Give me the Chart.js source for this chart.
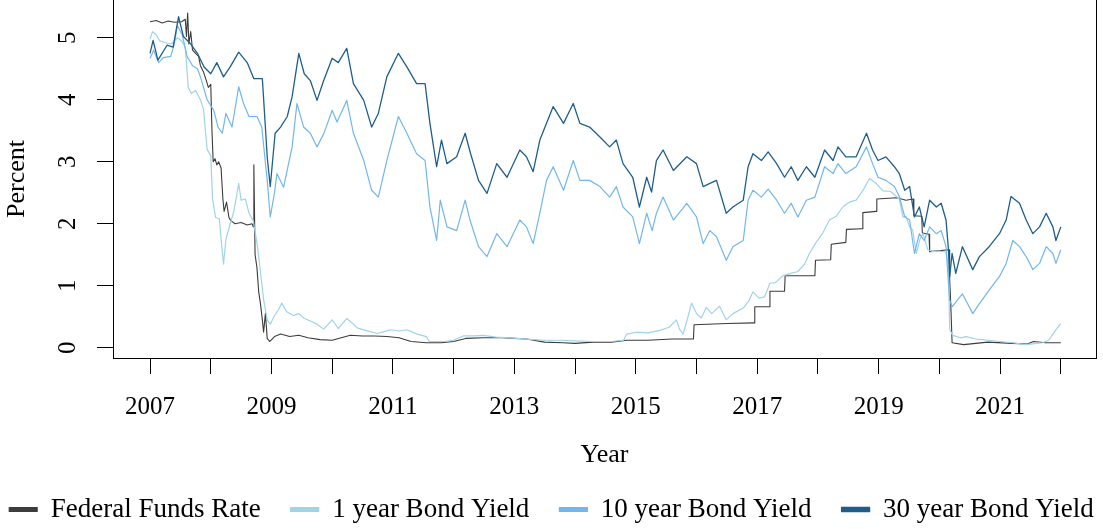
<!DOCTYPE html>
<html>
<head>
<meta charset="utf-8">
<script src="https://cdn.jsdelivr.net/npm/chart.js@4.4.0/dist/chart.umd.min.js"></script>
<style>
  html, body { margin: 0; padding: 0; background: #fff; }
</style>
</head>
<body>
<canvas id="rates" width="1103" height="529"></canvas>
<script>
// values (decimal years / percent)
var ffrDates = [2007.00, 2007.10, 2007.20, 2007.30, 2007.40, 2007.52, 2007.58, 2007.60, 2007.62, 2007.64, 2007.67, 2007.70, 2007.75, 2007.80, 2007.83, 2007.88, 2007.93, 2007.96, 2008.00, 2008.02, 2008.04, 2008.07, 2008.10, 2008.13, 2008.17, 2008.20, 2008.22, 2008.26, 2008.30, 2008.33, 2008.40, 2008.50, 2008.60, 2008.68, 2008.70, 2008.71, 2008.73, 2008.76, 2008.79, 2008.82, 2008.85, 2008.87, 2008.90, 2008.93, 2008.97, 2009.05, 2009.15, 2009.30, 2009.45, 2009.60, 2009.80, 2010.00, 2010.15, 2010.30, 2010.50, 2010.70, 2010.90, 2011.10, 2011.30, 2011.55, 2011.80, 2012.00, 2012.20, 2012.50, 2012.80, 2013.00, 2013.20, 2013.50, 2013.80, 2014.00, 2014.30, 2014.60, 2014.85, 2015.20, 2015.60, 2015.95, 2015.96, 2016.50, 2016.95, 2016.96, 2017.20, 2017.21, 2017.45, 2017.46, 2017.95, 2017.96, 2018.21, 2018.22, 2018.46, 2018.47, 2018.73, 2018.74, 2018.96, 2018.97, 2019.30, 2019.45, 2019.57, 2019.58, 2019.71, 2019.72, 2019.83, 2019.84, 2020.16, 2020.17, 2020.19, 2020.21, 2020.40, 2020.80, 2021.20, 2021.45, 2021.55, 2021.75, 2022.00];
var ffrRate = [5.26, 5.28, 5.24, 5.27, 5.25, 5.26, 5.30, 5.02, 5.40, 4.90, 5.10, 4.80, 4.75, 4.70, 4.55, 4.45, 4.30, 4.20, 4.25, 3.50, 3.00, 3.05, 2.95, 3.00, 2.90, 2.40, 2.20, 2.35, 2.10, 2.05, 2.00, 2.02, 1.98, 2.00, 1.95, 2.95, 1.50, 1.30, 0.90, 0.70, 0.45, 0.25, 0.55, 0.15, 0.10, 0.18, 0.22, 0.18, 0.20, 0.16, 0.13, 0.12, 0.16, 0.20, 0.19, 0.19, 0.18, 0.16, 0.10, 0.08, 0.08, 0.10, 0.15, 0.16, 0.16, 0.15, 0.14, 0.09, 0.08, 0.07, 0.09, 0.09, 0.12, 0.12, 0.14, 0.14, 0.37, 0.39, 0.40, 0.66, 0.66, 0.91, 0.91, 1.16, 1.16, 1.41, 1.42, 1.67, 1.70, 1.91, 1.92, 2.18, 2.20, 2.40, 2.42, 2.38, 2.40, 2.13, 2.12, 1.85, 1.83, 1.55, 1.58, 1.10, 0.65, 0.08, 0.05, 0.09, 0.07, 0.06, 0.10, 0.08, 0.08];

var y1Dates = [2007.00, 2007.04, 2007.10, 2007.16, 2007.25, 2007.35, 2007.45, 2007.52, 2007.58, 2007.63, 2007.68, 2007.75, 2007.83, 2007.88, 2007.94, 2008.00, 2008.03, 2008.08, 2008.14, 2008.18, 2008.21, 2008.25, 2008.32, 2008.38, 2008.46, 2008.50, 2008.57, 2008.63, 2008.70, 2008.76, 2008.81, 2008.87, 2008.93, 2008.98, 2009.04, 2009.12, 2009.17, 2009.25, 2009.36, 2009.45, 2009.53, 2009.64, 2009.75, 2009.86, 2010.00, 2010.10, 2010.24, 2010.33, 2010.41, 2010.55, 2010.74, 2010.85, 2010.96, 2011.10, 2011.23, 2011.40, 2011.55, 2011.60, 2011.83, 2012.00, 2012.16, 2012.35, 2012.49, 2012.70, 2012.93, 2013.20, 2013.50, 2013.75, 2014.00, 2014.30, 2014.60, 2014.80, 2014.85, 2015.01, 2015.20, 2015.40, 2015.55, 2015.67, 2015.72, 2015.78, 2015.86, 2015.92, 2016.00, 2016.08, 2016.16, 2016.25, 2016.38, 2016.49, 2016.60, 2016.77, 2016.86, 2016.93, 2017.03, 2017.12, 2017.21, 2017.30, 2017.42, 2017.55, 2017.67, 2017.78, 2017.86, 2017.97, 2018.08, 2018.19, 2018.30, 2018.41, 2018.52, 2018.63, 2018.75, 2018.85, 2018.96, 2019.07, 2019.20, 2019.34, 2019.40, 2019.45, 2019.51, 2019.56, 2019.62, 2019.68, 2019.73, 2019.81, 2019.90, 2020.00, 2020.11, 2020.15, 2020.17, 2020.22, 2020.35, 2020.44, 2020.60, 2020.71, 2020.99, 2021.20, 2021.43, 2021.60, 2021.70, 2021.80, 2021.87, 2021.95, 2022.00];
var y1Yield = [4.98, 5.10, 5.05, 4.95, 4.92, 4.90, 5.00, 4.95, 4.85, 4.20, 4.10, 4.15, 4.00, 3.85, 3.20, 3.10, 2.40, 2.10, 2.08, 1.65, 1.35, 1.75, 2.00, 2.20, 2.65, 2.38, 2.40, 2.17, 2.05, 1.70, 1.30, 0.78, 0.45, 0.38, 0.50, 0.62, 0.72, 0.58, 0.52, 0.55, 0.48, 0.43, 0.38, 0.30, 0.45, 0.31, 0.47, 0.40, 0.32, 0.28, 0.23, 0.26, 0.29, 0.27, 0.29, 0.22, 0.18, 0.10, 0.10, 0.12, 0.19, 0.19, 0.20, 0.17, 0.16, 0.14, 0.12, 0.12, 0.11, 0.10, 0.10, 0.12, 0.22, 0.25, 0.24, 0.28, 0.33, 0.45, 0.30, 0.22, 0.50, 0.72, 0.55, 0.48, 0.65, 0.55, 0.67, 0.45, 0.55, 0.64, 0.75, 0.90, 0.80, 0.82, 1.04, 1.05, 1.16, 1.20, 1.23, 1.35, 1.52, 1.70, 1.85, 2.06, 2.12, 2.27, 2.35, 2.38, 2.55, 2.73, 2.65, 2.53, 2.52, 2.40, 2.11, 2.12, 1.95, 1.90, 1.52, 1.75, 1.84, 1.58, 1.55, 1.56, 1.54, 1.30, 0.29, 0.20, 0.16, 0.18, 0.14, 0.13, 0.10, 0.08, 0.05, 0.07, 0.08, 0.12, 0.22, 0.33, 0.39];

var y10Dates = [2007.00, 2007.06, 2007.14, 2007.22, 2007.34, 2007.40, 2007.45, 2007.53, 2007.61, 2007.70, 2007.78, 2007.83, 2007.94, 2008.05, 2008.12, 2008.19, 2008.25, 2008.35, 2008.46, 2008.54, 2008.63, 2008.76, 2008.84, 2008.93, 2008.98, 2009.05, 2009.09, 2009.20, 2009.34, 2009.42, 2009.53, 2009.64, 2009.75, 2009.86, 2010.00, 2010.08, 2010.24, 2010.35, 2010.52, 2010.65, 2010.76, 2010.90, 2011.09, 2011.23, 2011.39, 2011.53, 2011.61, 2011.72, 2011.78, 2011.89, 2012.05, 2012.19, 2012.27, 2012.41, 2012.55, 2012.71, 2012.88, 2013.09, 2013.20, 2013.31, 2013.42, 2013.53, 2013.64, 2013.81, 2013.97, 2014.08, 2014.24, 2014.41, 2014.57, 2014.68, 2014.79, 2014.95, 2015.06, 2015.18, 2015.27, 2015.34, 2015.45, 2015.62, 2015.84, 2016.00, 2016.11, 2016.22, 2016.33, 2016.49, 2016.60, 2016.77, 2016.85, 2016.93, 2017.07, 2017.18, 2017.32, 2017.45, 2017.56, 2017.67, 2017.81, 2017.95, 2018.11, 2018.25, 2018.33, 2018.46, 2018.63, 2018.80, 2018.90, 2018.99, 2019.12, 2019.26, 2019.34, 2019.43, 2019.51, 2019.59, 2019.67, 2019.75, 2019.84, 2019.95, 2020.03, 2020.11, 2020.15, 2020.17, 2020.21, 2020.30, 2020.38, 2020.55, 2020.66, 2020.82, 2020.99, 2021.10, 2021.21, 2021.32, 2021.43, 2021.54, 2021.65, 2021.76, 2021.87, 2021.92, 2022.00];
var y10Yield = [4.67, 4.80, 4.60, 4.68, 4.70, 4.90, 5.20, 5.05, 4.70, 4.55, 4.50, 4.37, 4.00, 3.83, 3.56, 3.46, 3.78, 3.56, 4.21, 3.94, 3.73, 3.73, 3.56, 2.70, 2.11, 2.50, 2.81, 2.59, 3.24, 3.94, 3.56, 3.46, 3.24, 3.45, 3.83, 3.64, 3.99, 3.46, 3.02, 2.54, 2.43, 3.02, 3.73, 3.46, 3.13, 3.02, 2.27, 1.73, 2.38, 1.95, 1.89, 2.38, 2.06, 1.63, 1.47, 1.84, 1.63, 2.06, 1.95, 1.68, 2.17, 2.70, 2.92, 2.54, 3.02, 2.70, 2.70, 2.60, 2.43, 2.60, 2.27, 2.11, 1.68, 2.17, 1.89, 2.17, 2.43, 2.06, 2.33, 2.11, 1.68, 1.89, 1.79, 1.41, 1.63, 1.73, 2.38, 2.54, 2.43, 2.56, 2.38, 2.17, 2.33, 2.11, 2.38, 2.43, 2.92, 2.81, 2.97, 2.81, 2.92, 3.24, 2.97, 2.75, 2.70, 2.60, 2.44, 2.11, 2.06, 1.52, 1.84, 1.73, 1.95, 1.84, 1.89, 1.63, 1.04, 0.77, 0.66, 0.77, 0.87, 0.55, 0.71, 0.93, 1.15, 1.36, 1.73, 1.63, 1.47, 1.26, 1.36, 1.63, 1.52, 1.36, 1.58];

var y30Dates = [2007.00, 2007.05, 2007.13, 2007.28, 2007.38, 2007.47, 2007.55, 2007.67, 2007.78, 2007.89, 2008.00, 2008.10, 2008.21, 2008.32, 2008.46, 2008.60, 2008.71, 2008.85, 2008.93, 2008.98, 2009.06, 2009.15, 2009.26, 2009.34, 2009.45, 2009.54, 2009.64, 2009.75, 2009.86, 2010.00, 2010.10, 2010.24, 2010.35, 2010.52, 2010.65, 2010.76, 2010.90, 2011.09, 2011.23, 2011.39, 2011.53, 2011.61, 2011.72, 2011.80, 2011.89, 2012.05, 2012.19, 2012.28, 2012.41, 2012.55, 2012.71, 2012.88, 2013.09, 2013.20, 2013.31, 2013.42, 2013.53, 2013.64, 2013.81, 2013.97, 2014.08, 2014.24, 2014.41, 2014.57, 2014.68, 2014.79, 2014.95, 2015.06, 2015.18, 2015.26, 2015.34, 2015.45, 2015.62, 2015.84, 2016.00, 2016.11, 2016.22, 2016.33, 2016.49, 2016.60, 2016.77, 2016.85, 2016.93, 2017.07, 2017.18, 2017.32, 2017.45, 2017.56, 2017.67, 2017.81, 2017.95, 2018.11, 2018.25, 2018.33, 2018.46, 2018.63, 2018.80, 2018.90, 2018.99, 2019.12, 2019.26, 2019.34, 2019.43, 2019.51, 2019.59, 2019.67, 2019.75, 2019.84, 2019.95, 2020.03, 2020.11, 2020.15, 2020.17, 2020.21, 2020.27, 2020.38, 2020.55, 2020.66, 2020.82, 2020.99, 2021.10, 2021.18, 2021.32, 2021.43, 2021.54, 2021.65, 2021.76, 2021.87, 2021.92, 2022.00];
var y30Yield = [4.75, 4.96, 4.64, 4.88, 4.85, 5.34, 5.02, 4.90, 4.75, 4.53, 4.42, 4.60, 4.37, 4.53, 4.77, 4.60, 4.34, 4.34, 3.08, 2.60, 3.46, 3.56, 3.73, 4.05, 4.75, 4.42, 4.31, 3.99, 4.31, 4.67, 4.60, 4.83, 4.26, 3.99, 3.56, 3.78, 4.37, 4.75, 4.53, 4.26, 4.26, 3.62, 2.92, 3.35, 2.97, 3.08, 3.46, 3.13, 2.70, 2.49, 2.97, 2.75, 3.19, 3.08, 2.84, 3.35, 3.62, 3.89, 3.62, 3.94, 3.62, 3.56, 3.40, 3.24, 3.35, 2.97, 2.75, 2.27, 2.75, 2.51, 3.02, 3.19, 2.86, 3.08, 2.97, 2.60, 2.65, 2.70, 2.17, 2.27, 2.38, 2.92, 3.13, 3.02, 3.16, 2.97, 2.75, 2.92, 2.70, 2.92, 2.75, 3.19, 3.02, 3.24, 3.08, 3.08, 3.46, 3.19, 3.02, 3.08, 2.92, 2.81, 2.54, 2.60, 2.11, 2.27, 1.95, 2.38, 2.27, 2.33, 2.06, 1.58, 1.15, 1.52, 1.20, 1.63, 1.26, 1.47, 1.63, 1.84, 2.06, 2.44, 2.33, 2.06, 1.84, 1.95, 2.17, 1.95, 1.73, 1.95];

var yearTicks = [2007, 2008, 2009, 2010, 2011, 2012, 2013, 2014, 2015, 2016, 2017, 2018, 2019, 2020, 2021, 2022];
var percentTicks = [0, 1, 2, 3, 4, 5];

function points(dates, vals) {
    return dates.map(function (d, i) { return { x: d, y: vals[i] }; });
}

var serif = '"Liberation Serif", "Times New Roman", serif';

// right edge of the box and rotated y labels, as R draws them
var framePlugin = {
    id: 'frame',
    afterDraw: function (chart) {
        var ctx = chart.ctx, a = chart.chartArea, y = chart.scales.y;
        ctx.save();
        ctx.strokeStyle = '#000';
        ctx.lineWidth = 1;
        ctx.beginPath();
        ctx.moveTo(Math.round(a.right) + 0.5, a.top);
        ctx.lineTo(Math.round(a.right) + 0.5, a.bottom + 0.5);
        ctx.stroke();
        ctx.fillStyle = '#000';
        ctx.font = '25px ' + serif;
        ctx.textAlign = 'center';
        ctx.textBaseline = 'middle';
        percentTicks.forEach(function (v) {
            ctx.save();
            ctx.translate(68, y.getPixelForValue(v));
            ctx.rotate(-Math.PI / 2);
            ctx.fillText(String(v), 0, 0);
            ctx.restore();
        });
        ctx.restore();
    }
};

// the legend is wider than the plot, so the layout is padded outwards
// and the plot edges are set by the axis widths instead
var PAD = 40;

var ctx = document.getElementById('rates');
var ratesChart = new Chart(ctx, {
    type: 'line',
    data: {
        datasets: [{
            label: 'Federal Funds Rate',
            data: points(ffrDates, ffrRate),
            borderColor: '#3c3c3c',
            backgroundColor: '#3c3c3c',
            borderWidth: 1.1,
            order: 3
        }, {
            label: '1 year Bond Yield',
            data: points(y1Dates, y1Yield),
            borderColor: '#9fd3e8',
            backgroundColor: '#9fd3e8',
            borderWidth: 1.2,
            order: 2
        }, {
            label: '10 year Bond Yield',
            data: points(y10Dates, y10Yield),
            borderColor: '#72b6ee',
            backgroundColor: '#72b6ee',
            borderWidth: 1.2,
            order: 1
        }, {
            label: '30 year Bond Yield',
            data: points(y30Dates, y30Yield),
            borderColor: '#1f5e8b',
            backgroundColor: '#1f5e8b',
            borderWidth: 1.3,
            order: 0
        }]
    },
    options: {
        responsive: false,
        animation: false,
        devicePixelRatio: 1,
        layout: { padding: { left: -PAD, right: -PAD, top: 0, bottom: -4 } },
        elements: {
            point: { radius: 0 },
            line: { tension: 0, borderJoinStyle: 'round' }
        },
        plugins: {
            legend: {
                position: 'bottom',
                labels: {
                    boxWidth: 28,
                    boxHeight: 4,
                    padding: 30,
                    color: '#000',
                    font: { family: serif, size: 27 },
                    sort: function (a, b) { return a.datasetIndex - b.datasetIndex; }
                }
            },
            tooltip: { enabled: false }
        },
        scales: {
            x: {
                type: 'linear',
                min: 2006.39,
                max: 2022.58,
                afterBuildTicks: function (s) {
                    s.ticks = yearTicks.map(function (v) { return { value: v }; });
                },
                afterFit: function (s) { s.height = 108; },
                ticks: {
                    autoSkip: false,
                    maxRotation: 0,
                    padding: 18,
                    color: '#000',
                    font: { family: serif, size: 25 },
                    callback: function (v) { return v % 2 === 1 ? String(v) : ''; }
                },
                grid: { drawOnChartArea: false, tickLength: 16, color: '#000' },
                border: { color: '#000' },
                title: {
                    display: true,
                    text: 'Year',
                    color: '#000',
                    font: { family: serif, size: 26 },
                    padding: { top: 0, bottom: -5 }
                }
            },
            y: {
                min: -0.166,
                max: 5.61,
                afterBuildTicks: function (s) {
                    s.ticks = percentTicks.map(function (v) { return { value: v }; });
                },
                afterFit: function (s) { s.width = 113 + PAD; },
                ticks: { display: false },
                grid: { drawOnChartArea: false, tickLength: 16, color: '#000' },
                border: { color: '#000' },
                title: {
                    display: true,
                    text: 'Percent',
                    color: '#000',
                    font: { family: serif, size: 26 },
                    padding: { top: 2 + PAD, bottom: 0 }
                }
            },
            edge: {
                position: 'right',
                display: true,
                afterFit: function (s) { s.width = 1103 + PAD - 1096; },
                ticks: { display: false },
                grid: { display: false },
                border: { display: false }
            }
        }
    },
    plugins: [framePlugin]
});
</script>
</body>
</html>
